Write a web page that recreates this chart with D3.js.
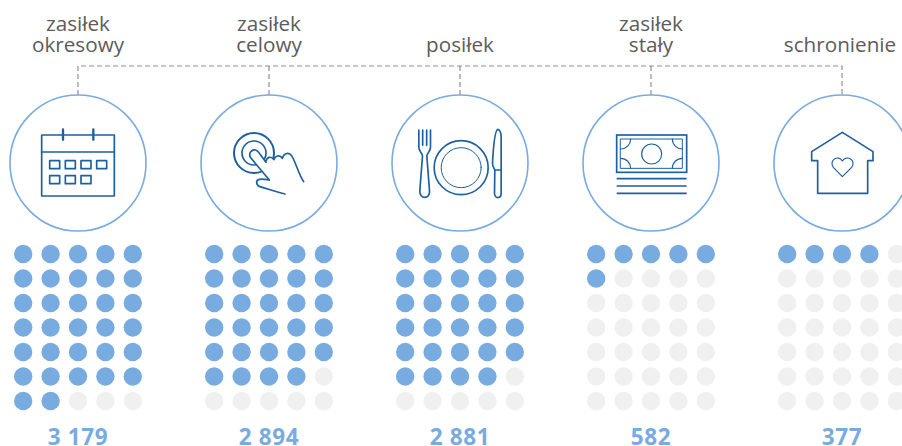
<!DOCTYPE html>
<html>
<head>
<meta charset="utf-8">
<script src="https://cdn.jsdelivr.net/npm/d3@7"></script>
<style>
  html, body { margin: 0; padding: 0; background: #fff; overflow: hidden; }
  svg { display: block; }
  text { font-family: "Open Sans", sans-serif; text-anchor: middle; }
</style>
</head>
<body>
<svg id="chart" width="902" height="446"></svg>
<script>
const categories = ["okresowy", "celowy", "posiłek", "stały", "schronienie"];
const firstLines = ["zasiłek", "zasiłek", "", "zasiłek", ""];
const secondLines = ["okresowy", "celowy", "posiłek", "stały", "schronienie"];
const values = [3179, 2894, 2881, 582, 377];
const valueLabels = ["3 179", "2 894", "2 881", "582", "377"];
const dotUnit = 100;
const dotCols = d3.range(5);
const dotRows = d3.range(7);

const blue = "#78abdf", dark = "#1d5f9f", empty = "#f0f0f0", grey = "#5c5c5c", dash = "#8f8f8f";
const svg = d3.select("#chart");

const xScale = d3.scalePoint().domain(categories).range([78, 842]);
const colScale = d3.scalePoint().domain(dotCols).range([-54.8, 54.8]);
const rowScale = d3.scalePoint().domain(dotRows).range([254, 401]);
const circleY = 163, circleR = 68, lineY = 66;

// dashed connector
svg.append("path")
  .attr("d", `M${xScale(categories[0])},${circleY - circleR}V${lineY}H${xScale(categories[4])}V${circleY - circleR}`)
  .attr("fill", "none")
  .attr("stroke", dash)
  .attr("stroke-width", 1.2)
  .attr("stroke-dasharray", "5 3");
svg.selectAll(".drop")
  .data(categories.slice(1, 4))
  .enter()
  .append("line")
  .attr("x1", d => xScale(d))
  .attr("x2", d => xScale(d))
  .attr("y1", lineY)
  .attr("y2", circleY - circleR)
  .attr("stroke", dash)
  .attr("stroke-width", 1.2)
  .attr("stroke-dasharray", "5 3");

// circles
svg.selectAll(".ring")
  .data(categories)
  .enter()
  .append("circle")
  .attr("cx", d => xScale(d))
  .attr("cy", circleY)
  .attr("r", circleR)
  .attr("fill", "#fff")
  .attr("stroke", blue)
  .attr("stroke-width", 1.6);

// labels, one text per category with a tspan for each line
const labels = svg.selectAll(".label")
  .data(categories)
  .enter()
  .append("text")
  .attr("class", "label")
  .attr("font-size", 20.7)
  .attr("fill", grey);
const labelX = (d, i) => xScale(d) + (i === 4 ? -2 : 0);
labels.append("tspan")
  .attr("x", labelX)
  .attr("y", 31)
  .text((d, i) => firstLines[i]);
labels.append("tspan")
  .attr("x", labelX)
  .attr("y", 52)
  .text((d, i) => secondLines[i]);

// dot grids
categories.forEach((c, i) => {
  const filled = Math.round(values[i] / dotUnit);
  const cells = d3.cross(dotRows, dotCols);
  svg.append("g")
    .attr("transform", `translate(${xScale(c)},0)`)
    .selectAll("circle")
    .data(cells)
    .enter()
    .append("circle")
    .attr("cx", d => colScale(d[1]))
    .attr("cy", d => rowScale(d[0]))
    .attr("r", 9.2)
    .attr("fill", (d, k) => k < filled ? blue : empty);
});

// value labels
svg.selectAll(".value")
  .data(categories)
  .enter()
  .append("text")
  .attr("x", d => xScale(d))
  .attr("y", 445)
  .attr("font-size", 22.5)
  .attr("font-weight", 700)
  .attr("letter-spacing", 0.6)
  .attr("fill", blue)
  .text((d, i) => valueLabels[i]);

// icons are traced in a 3x grid, so group scale is 1/3
function iconGroup(cat, dx, dy) {
  return svg.append("g")
    .attr("transform", `translate(${xScale(cat) + dx},${circleY + dy}) scale(${1 / 3})`)
    .attr("fill", "none")
    .attr("stroke", dark)
    .attr("stroke-width", 5)
    .attr("stroke-linejoin", "round")
    .attr("stroke-linecap", "round");
}

// calendar
const cal = iconGroup(categories[0], -48, -43);
cal.append("rect").attr("x", 35).attr("y", 45).attr("width", 218).attr("height", 183);
cal.append("path").attr("d", "M35,96H253");
cal.append("path").attr("d", "M99,28V59M190,28V59").attr("stroke-width", 7);
[[59, 122], [106, 122], [153, 122], [200, 122], [59, 167], [106, 167], [153, 167]].forEach(p => {
  cal.append("rect").attr("x", p[0]).attr("y", p[1]).attr("width", 30).attr("height", 24);
});

// hand
const hand = iconGroup(categories[1], -44, -38);
hand.append("circle").attr("cx", 87).attr("cy", 84).attr("r", 60).attr("stroke-width", 6);
hand.append("circle").attr("cx", 87).attr("cy", 84).attr("r", 36);
hand.append("path")
  .attr("fill", "#fff")
  .attr("d", "M133,165 L76,97 C70,84 80,72 92,75 C98,77 101,81 104,86 L123,112 C124,98 138,92 147,104 C150,92 165,88 172,100 C176,84 192,80 200,92 C212,112 222,150 236,170 L180,207 L105,185 C92,180 92,165 103,163 C112,161 122,163 133,165 Z")
  .attr("stroke", "none");
hand.append("path")
  .attr("d", "M133,165 L76,97 C70,84 80,72 92,75 C98,77 101,81 104,86 L123,112 M123,108 C126,96 138,92 147,104 M147,104 C150,92 165,88 172,100 M172,100 C176,84 192,80 200,92 C212,112 222,150 236,170 M133,165 C122,163 112,161 103,163 C92,165 92,180 105,185 C130,192 155,202 180,207");

// plate, fork, knife
const plate = iconGroup(categories[2], -50.5, -43);
plate.append("circle").attr("cx", 155).attr("cy", 143).attr("r", 81);
plate.append("circle").attr("cx", 155).attr("cy", 143).attr("r", 60).attr("stroke-width", 3);
plate.append("path")
  .attr("d", "M28,30V82C28,95 38,97 39,108L31,212C30,226 38,232 46,232C54,232 61,226 60,212L52,108C53,97 63,95 63,82V30M39.5,30V76M51.5,30V76");
plate.append("path")
  .attr("d", "M265,28C256,32 251,90 249,130C249,142 256,148 256,150L255,220C255,228 260,233 265,233C271,233 275,228 275,220V50C275,38 270,28 265,28ZM256,150H275");

// banknote
const note = iconGroup(categories[3], -46, -38);
note.append("rect").attr("x", 35).attr("y", 30).attr("width", 210).attr("height", 112).attr("stroke-width", 5).attr("stroke-linejoin", "miter");
note.append("rect").attr("x", 47).attr("y", 42).attr("width", 185).attr("height", 88).attr("stroke-width", 3);
note.append("circle").attr("cx", 140).attr("cy", 87).attr("r", 30).attr("stroke-width", 3.5);
note.append("path").attr("stroke-width", 3.5)
  .attr("d", "M47,72A30,30 0 0 0 77,42M202,42A30,30 0 0 0 232,72M47,100A30,30 0 0 1 77,130M202,130A30,30 0 0 1 232,100");
note.append("path").attr("stroke-linecap", "butt").attr("d", "M35,161H245M35,183H245M35,205H245");

// house
const house = iconGroup(categories[4], -42, -38);
house.append("path").attr("d", "M127,22L35,80V107H53V205H203V107H219V80Z");
house.append("path").attr("stroke-width", 3.5)
  .attr("d", "M127,155L100,127C85,105 115,88 127,108C140,88 170,105 155,127Z");
</script>
</body>
</html>
